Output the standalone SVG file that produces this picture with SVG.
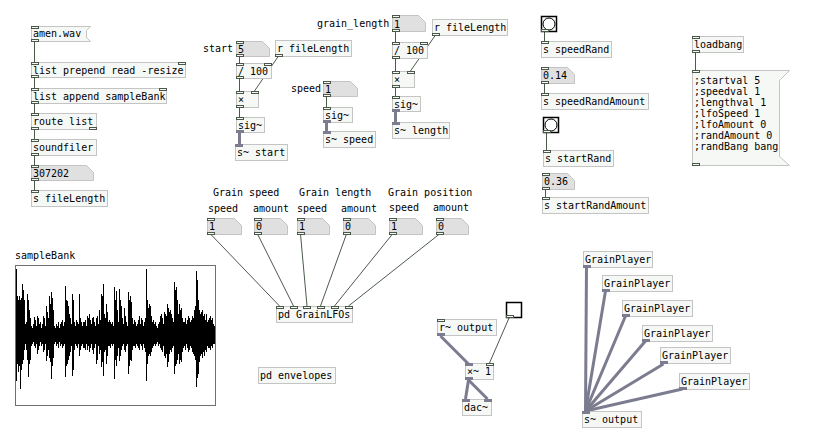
<svg xmlns="http://www.w3.org/2000/svg" width="840" height="439" viewBox="0 0 840 439">
<style>
text{font-family:"DejaVu Sans Mono",monospace;font-size:10px;fill:#000}
.b{fill:#f6f8f6;stroke:#c4c4c4;stroke-width:1}
.n{fill:#e0e0e0;stroke:#c4c4c4;stroke-width:1}
.io{fill:#f6f8f6;stroke:#4a584a;stroke-width:1}
.sio{fill:#7c7c90;stroke:#7c7c90;stroke-width:1}
.c{stroke:#4c5a4c;stroke-width:1;fill:none}
.s{stroke:#7c7c90;stroke-width:3;fill:none}
.bng{fill:#fff;stroke:#000;stroke-width:1.5}
</style>
<rect width="840" height="439" fill="#fff"/>

<g id="connectors">
<line class="c" x1="34.5" y1="41" x2="34.5" y2="62"/>
<line class="c" x1="34.5" y1="77" x2="34.5" y2="88"/>
<line class="c" x1="34.5" y1="103" x2="34.5" y2="113"/>
<line class="c" x1="34.5" y1="129" x2="34.5" y2="139"/>
<line class="c" x1="34.5" y1="155" x2="34.5" y2="165"/>
<line class="c" x1="34.5" y1="180" x2="34.5" y2="190"/>
<line class="c" x1="239.5" y1="56" x2="239.5" y2="63"/>
<line class="c" x1="239.5" y1="78" x2="239.5" y2="91"/>
<line class="c" x1="278.5" y1="56" x2="254.5" y2="91"/>
<line class="c" x1="239.5" y1="107" x2="239.5" y2="117"/>
<line class="s" x1="239.5" y1="132" x2="239.5" y2="144"/>
<line class="c" x1="326.5" y1="96" x2="326.5" y2="107"/>
<line class="s" x1="326.5" y1="122" x2="326.5" y2="131"/>
<line class="c" x1="395.5" y1="31" x2="395.5" y2="42"/>
<line class="c" x1="395.5" y1="58" x2="395.5" y2="71"/>
<line class="c" x1="435.5" y1="35" x2="410.5" y2="71"/>
<line class="c" x1="395.5" y1="87" x2="395.5" y2="96"/>
<line class="s" x1="395.5" y1="111" x2="395.5" y2="122"/>
<line class="c" x1="544.5" y1="31" x2="544.5" y2="41"/>
<line class="c" x1="544.5" y1="83" x2="544.5" y2="93"/>
<line class="c" x1="546.5" y1="133" x2="546.5" y2="150"/>
<line class="c" x1="545.5" y1="189" x2="545.5" y2="197"/>
<line class="c" x1="695.5" y1="53" x2="695.5" y2="70"/>
<line class="c" x1="210.5" y1="234" x2="279.5" y2="306"/>
<line class="c" x1="257.5" y1="234" x2="293.5" y2="306"/>
<line class="c" x1="300.5" y1="234" x2="307" y2="306"/>
<line class="c" x1="346.5" y1="234" x2="320.5" y2="306"/>
<line class="c" x1="392.5" y1="234" x2="334.5" y2="306"/>
<line class="c" x1="439.5" y1="234" x2="348.5" y2="306"/>
<line class="s" x1="440.5" y1="336" x2="468.5" y2="364"/>
<line class="s" x1="468.5" y1="380" x2="465.5" y2="399"/>
<line class="s" x1="468.5" y1="380" x2="487.5" y2="399"/>
<line class="c" x1="509" y1="318" x2="489.5" y2="363"/>
<line class="s" x1="586.5" y1="267" x2="585.5" y2="411"/>
<line class="s" x1="605.5" y1="291" x2="585.5" y2="411"/>
<line class="s" x1="625.5" y1="316" x2="585.5" y2="411"/>
<line class="s" x1="645.5" y1="341" x2="585.5" y2="411"/>
<line class="s" x1="663.5" y1="364" x2="585.5" y2="411"/>
<line class="s" x1="682.5" y1="389" x2="585.5" y2="411"/>
</g>

<!-- left column -->
<g id="msg-amen">
<path class="b" d="M31.5 26.5H90.5L86.5 30.5V37.5L90.5 41.5H31.5Z"/>
<rect class="io" x="31.5" y="26.5" width="7" height="2"/>
<rect class="io" x="31.5" y="39.5" width="7" height="2"/>
<text x="33" y="37">amen.wav</text>
</g>
<g id="obj-listprepend">
<rect class="b" x="31.5" y="62.5" width="154" height="15"/>
<rect class="io" x="31.5" y="62.5" width="7" height="2"/>
<rect class="io" x="178.5" y="62.5" width="7" height="2"/>
<rect class="io" x="31.5" y="75.5" width="7" height="2"/>
<text x="33" y="74">list prepend read -resize</text>
</g>
<g id="obj-listappend">
<rect class="b" x="31.5" y="88.5" width="135" height="15"/>
<rect class="io" x="31.5" y="88.5" width="7" height="2"/>
<rect class="io" x="159.5" y="88.5" width="7" height="2"/>
<rect class="io" x="31.5" y="101.5" width="7" height="2"/>
<text x="33" y="100">list append sampleBank</text>
</g>
<g id="obj-route">
<rect class="b" x="31.5" y="113.5" width="65" height="16"/>
<rect class="io" x="31.5" y="113.5" width="7" height="2"/>
<rect class="io" x="31.5" y="127.5" width="7" height="2"/>
<rect class="io" x="89.5" y="127.5" width="7" height="2"/>
<text x="33" y="125">route list</text>
</g>
<g id="obj-soundfiler">
<rect class="b" x="31.5" y="139.5" width="65" height="16"/>
<rect class="io" x="31.5" y="139.5" width="7" height="2"/>
<rect class="io" x="31.5" y="153.5" width="7" height="2"/>
<text x="33" y="151">soundfiler</text>
</g>
<g id="num-307202">
<path class="n" d="M31.5 165.5H86.5L93.5 172.5V180.5H31.5Z"/>
<rect class="io" x="31.5" y="165.5" width="7" height="2"/>
<rect class="io" x="31.5" y="178.5" width="7" height="2"/>
<text x="33" y="177">307202</text>
</g>
<g id="obj-sfilelength">
<rect class="b" x="31.5" y="190.5" width="76" height="16"/>
<rect class="io" x="31.5" y="190.5" width="7" height="2"/>
<text x="33" y="202">s fileLength</text>
</g>

<!-- start chain -->
<g id="lbl-start"><text x="203" y="52">start</text></g>
<g id="num-start">
<path class="n" d="M236.5 41.5H262.5L269.5 48.5V56.5H236.5Z"/>
<rect class="io" x="236.5" y="41.5" width="7" height="2"/>
<rect class="io" x="236.5" y="54.5" width="7" height="2"/>
<text x="238" y="53">5</text>
</g>
<g id="obj-rfl1">
<rect class="b" x="275.5" y="40.5" width="76" height="16"/>
<rect class="io" x="275.5" y="54.5" width="7" height="2"/>
<text x="277" y="52">r fileLength</text>
</g>
<g id="obj-div1">
<rect class="b" x="236.5" y="63.5" width="35" height="15"/>
<rect class="io" x="236.5" y="63.5" width="7" height="2"/>
<rect class="io" x="264.5" y="63.5" width="7" height="2"/>
<rect class="io" x="236.5" y="76.5" width="7" height="2"/>
<text x="238" y="75">/ 100</text>
</g>
<g id="obj-mul1">
<rect class="b" x="236.5" y="91.5" width="22" height="16"/>
<rect class="io" x="236.5" y="91.5" width="7" height="2"/>
<rect class="io" x="251.5" y="91.5" width="7" height="2"/>
<rect class="io" x="236.5" y="105.5" width="7" height="2"/>
<text x="238" y="103">×</text>
</g>
<g id="obj-sig1">
<rect class="b" x="236.5" y="117.5" width="28" height="15"/>
<rect class="io" x="236.5" y="117.5" width="7" height="2"/>
<rect class="sio" x="236.5" y="130.5" width="7" height="2"/>
<text x="238" y="129">sig~</text>
</g>
<g id="obj-sstart">
<rect class="b" x="235.5" y="144.5" width="52" height="16"/>
<rect class="sio" x="235.5" y="144.5" width="7" height="2"/>
<text x="237" y="156">s~ start</text>
</g>

<!-- speed chain -->
<g id="lbl-speed"><text x="291" y="92">speed</text></g>
<g id="num-speed">
<path class="n" d="M323.5 81.5H350.5L357.5 88.5V96.5H323.5Z"/>
<rect class="io" x="323.5" y="81.5" width="7" height="2"/>
<rect class="io" x="323.5" y="94.5" width="7" height="2"/>
<text x="325" y="93">1</text>
</g>
<g id="obj-sig2">
<rect class="b" x="323.5" y="107.5" width="29" height="15"/>
<rect class="io" x="323.5" y="107.5" width="7" height="2"/>
<rect class="sio" x="323.5" y="120.5" width="7" height="2"/>
<text x="325" y="119">sig~</text>
</g>
<g id="obj-sspeed">
<rect class="b" x="323.5" y="131.5" width="52" height="16"/>
<rect class="sio" x="323.5" y="131.5" width="7" height="2"/>
<text x="325" y="143">s~ speed</text>
</g>

<!-- grain length chain -->
<g id="lbl-grainlength"><text x="317" y="27">grain_length</text></g>
<g id="num-length">
<path class="n" d="M392.5 15.5H418.5L425.5 22.5V31.5H392.5Z"/>
<rect class="io" x="392.5" y="15.5" width="7" height="2"/>
<rect class="io" x="392.5" y="29.5" width="7" height="2"/>
<text x="394" y="28">1</text>
</g>
<g id="obj-rfl2">
<rect class="b" x="432.5" y="19.5" width="75" height="16"/>
<rect class="io" x="432.5" y="33.5" width="7" height="2"/>
<text x="434" y="31">r fileLength</text>
</g>
<g id="obj-div2">
<rect class="b" x="392.5" y="42.5" width="35" height="16"/>
<rect class="io" x="392.5" y="42.5" width="7" height="2"/>
<rect class="io" x="420.5" y="42.5" width="7" height="2"/>
<rect class="io" x="392.5" y="56.5" width="7" height="2"/>
<text x="394" y="54">/ 100</text>
</g>
<g id="obj-mul2">
<rect class="b" x="392.5" y="71.5" width="22" height="16"/>
<rect class="io" x="392.5" y="71.5" width="7" height="2"/>
<rect class="io" x="407.5" y="71.5" width="7" height="2"/>
<rect class="io" x="392.5" y="85.5" width="7" height="2"/>
<text x="394" y="83">×</text>
</g>
<g id="obj-sig3">
<rect class="b" x="392.5" y="96.5" width="28" height="15"/>
<rect class="io" x="392.5" y="96.5" width="7" height="2"/>
<rect class="sio" x="392.5" y="109.5" width="7" height="2"/>
<text x="394" y="108">sig~</text>
</g>
<g id="obj-slength">
<rect class="b" x="392.5" y="122.5" width="57" height="16"/>
<rect class="sio" x="392.5" y="122.5" width="7" height="2"/>
<text x="394" y="134">s~ length</text>
</g>

<!-- right column -->
<g id="bng-speedrand">
<rect class="bng" x="541.5" y="16.5" width="15" height="15"/>
<circle cx="549" cy="24" r="6" fill="#fff" stroke="#000" stroke-width="1"/>
<rect class="io" x="541.5" y="29.5" width="7" height="2"/>
</g>
<g id="obj-sspeedrand">
<rect class="b" x="541.5" y="41.5" width="70" height="16"/>
<rect class="io" x="541.5" y="41.5" width="7" height="2"/>
<text x="543" y="53">s speedRand</text>
</g>
<g id="num-speedrandamount">
<path class="n" d="M541.5 67.5H567.5L574.5 74.5V83.5H541.5Z"/>
<rect class="io" x="541.5" y="67.5" width="7" height="2"/>
<rect class="io" x="541.5" y="81.5" width="7" height="2"/>
<text x="543" y="79">0.14</text>
</g>
<g id="obj-sspeedrandamount">
<rect class="b" x="541.5" y="93.5" width="107" height="16"/>
<rect class="io" x="541.5" y="93.5" width="7" height="2"/>
<text x="543" y="105">s speedRandAmount</text>
</g>
<g id="bng-startrand">
<rect class="bng" x="543.5" y="117.5" width="15" height="15"/>
<circle cx="551" cy="125" r="6" fill="#fff" stroke="#000" stroke-width="1"/>
<rect class="io" x="543.5" y="130.5" width="7" height="2"/>
</g>
<g id="obj-sstartrand">
<rect class="b" x="543.5" y="150.5" width="70" height="16"/>
<rect class="io" x="543.5" y="150.5" width="7" height="2"/>
<text x="545" y="162">s startRand</text>
</g>
<g id="num-startrandamount">
<path class="n" d="M542.5 173.5H567.5L574.5 180.5V189.5H542.5Z"/>
<rect class="io" x="542.5" y="173.5" width="7" height="2"/>
<rect class="io" x="542.5" y="187.5" width="7" height="2"/>
<text x="544" y="185">0.36</text>
</g>
<g id="obj-sstartrandamount">
<rect class="b" x="542.5" y="197.5" width="106" height="16"/>
<rect class="io" x="542.5" y="197.5" width="7" height="2"/>
<text x="544" y="209">s startRandAmount</text>
</g>

<!-- loadbang -->
<g id="obj-loadbang">
<rect class="b" x="692.5" y="36.5" width="51" height="16"/>
<rect class="io" x="692.5" y="36.5" width="7" height="2"/>
<rect class="io" x="692.5" y="50.5" width="7" height="2"/>
<text x="694" y="48">loadbang</text>
</g>
<g id="msg-init">
<path class="b" d="M692.5 70.5H789.5L779.5 80.5V156.5L789.5 165.5H692.5Z"/>
<rect class="io" x="692.5" y="70.5" width="7" height="2"/>
<rect class="io" x="692.5" y="163.5" width="7" height="2"/>
<text x="694" y="84">;startval 5</text>
<text x="694" y="95">;speedval 1</text>
<text x="694" y="106">;lengthval 1</text>
<text x="694" y="117">;lfoSpeed 1</text>
<text x="694" y="128">;lfoAmount 0</text>
<text x="694" y="139">;randAmount 0</text>
<text x="694" y="150">;randBang bang</text>
</g>

<!-- LFO controls -->
<g id="lbl-lfo">
<text x="213" y="196">Grain speed</text>
<text x="208" y="212">speed</text>
<text x="253" y="212">amount</text>
<text x="299" y="196">Grain length</text>
<text x="297" y="212">speed</text>
<text x="341" y="212">amount</text>
<text x="388" y="196">Grain position</text>
<text x="389" y="211">speed</text>
<text x="433" y="211">amount</text>
</g>
<g id="num-lfo1">
<path class="n" d="M207.5 218.5H234.5L241.5 225.5V234.5H207.5Z"/>
<rect class="io" x="207.5" y="218.5" width="7" height="2"/>
<rect class="io" x="207.5" y="232.5" width="7" height="2"/>
<text x="209" y="230">1</text>
</g>
<g id="num-lfo2">
<path class="n" d="M254.5 218.5H280.5L287.5 225.5V234.5H254.5Z"/>
<rect class="io" x="254.5" y="218.5" width="7" height="2"/>
<rect class="io" x="254.5" y="232.5" width="7" height="2"/>
<text x="256" y="230">0</text>
</g>
<g id="num-lfo3">
<path class="n" d="M297.5 218.5H322.5L329.5 225.5V234.5H297.5Z"/>
<rect class="io" x="297.5" y="218.5" width="7" height="2"/>
<rect class="io" x="297.5" y="232.5" width="7" height="2"/>
<text x="299" y="230">1</text>
</g>
<g id="num-lfo4">
<path class="n" d="M343.5 218.5H368.5L375.5 225.5V234.5H343.5Z"/>
<rect class="io" x="343.5" y="218.5" width="7" height="2"/>
<rect class="io" x="343.5" y="232.5" width="7" height="2"/>
<text x="345" y="230">0</text>
</g>
<g id="num-lfo5">
<path class="n" d="M389.5 218.5H415.5L422.5 225.5V234.5H389.5Z"/>
<rect class="io" x="389.5" y="218.5" width="7" height="2"/>
<rect class="io" x="389.5" y="232.5" width="7" height="2"/>
<text x="391" y="230">1</text>
</g>
<g id="num-lfo6">
<path class="n" d="M436.5 218.5H461.5L468.5 225.5V234.5H436.5Z"/>
<rect class="io" x="436.5" y="218.5" width="7" height="2"/>
<rect class="io" x="436.5" y="232.5" width="7" height="2"/>
<text x="438" y="230">0</text>
</g>
<g id="obj-grainlfos">
<rect class="b" x="276.5" y="306.5" width="76" height="16"/>
<rect class="io" x="276.5" y="306.5" width="7" height="2"/>
<rect class="io" x="290.5" y="306.5" width="7" height="2"/>
<rect class="io" x="303.5" y="306.5" width="7" height="2"/>
<rect class="io" x="317.5" y="306.5" width="7" height="2"/>
<rect class="io" x="331.5" y="306.5" width="7" height="2"/>
<rect class="io" x="345.5" y="306.5" width="7" height="2"/>
<text x="278" y="318">pd GrainLFOs</text>
</g>
<g id="obj-envelopes">
<rect class="b" x="258.5" y="367.5" width="77" height="16"/>
<text x="260" y="379">pd envelopes</text>
</g>

<!-- sampleBank graph -->
<g id="graph-samplebank">
<text x="15" y="259">sampleBank</text>
<rect x="15.5" y="265.5" width="200" height="140" fill="#fff" stroke="#707070" stroke-width="1"/>
<rect x="16" y="328" width="199" height="14" fill="#000" shape-rendering="crispEdges"/>
<path stroke="#000" stroke-width="1" fill="none" shape-rendering="crispEdges" d="M16.5 269V381M17.5 296V364M18.5 300V372M19.5 296V366M20.5 300V389M21.5 298V370M22.5 284V364M23.5 290V360M24.5 300V350M25.5 324V344M26.5 322V350M27.5 294V360M28.5 300V377M29.5 310V364M30.5 318V360M31.5 326V346M32.5 328V344M33.5 324V342M34.5 317V346M35.5 320V348M36.5 326V344M37.5 316V354M38.5 318V350M39.5 324V346M40.5 322V342M41.5 328V346M42.5 324V344M43.5 316V352M44.5 318V350M45.5 326V344M46.5 306V361M47.5 312V356M48.5 318V350M49.5 296V358M50.5 304V362M51.5 292V379M52.5 298V366M53.5 310V358M54.5 326V344M55.5 328V342M56.5 324V346M57.5 326V344M58.5 322V348M59.5 328V342M60.5 324V346M61.5 322V344M62.5 320V348M63.5 326V346M64.5 322V344M65.5 286V377M66.5 300V366M67.5 301V364M68.5 306V360M69.5 314V356M70.5 318V352M71.5 324V346M72.5 294V376M73.5 300V370M74.5 322V350M75.5 326V344M76.5 320V346M77.5 322V348M78.5 324V344M79.5 294V356M80.5 318V350M81.5 322V346M82.5 326V344M83.5 322V348M84.5 322V348M85.5 320V350M86.5 326V344M87.5 316V350M88.5 318V346M89.5 314V352M90.5 320V348M91.5 324V344M92.5 318V350M93.5 317V354M94.5 322V348M95.5 326V344M96.5 318V364M97.5 316V360M98.5 324V346M99.5 310V354M100.5 320V350M101.5 294V367M102.5 296V362M103.5 284V376M104.5 314V352M105.5 318V350M106.5 304V364M107.5 312V356M108.5 322V346M109.5 320V346M110.5 322V348M111.5 324V344M112.5 322V346M113.5 326V344M114.5 287V379M115.5 300V360M116.5 291V366M117.5 310V356M118.5 322V348M119.5 289V361M120.5 300V356M121.5 306V350M122.5 318V346M123.5 324V344M124.5 308V350M125.5 316V352M126.5 322V346M127.5 326V344M128.5 292V374M129.5 300V366M130.5 296V360M131.5 302V361M132.5 318V350M133.5 324V346M134.5 320V346M135.5 322V348M136.5 326V344M137.5 324V346M138.5 320V348M139.5 316V350M140.5 324V344M141.5 318V346M142.5 320V350M143.5 326V344M144.5 322V348M145.5 318V352M146.5 269V381M147.5 300V364M148.5 308V356M149.5 304V354M150.5 306V356M151.5 316V352M152.5 322V348M153.5 320V346M154.5 324V344M155.5 322V346M156.5 326V344M157.5 328V342M158.5 324V346M159.5 322V344M160.5 316V348M161.5 314V350M162.5 318V352M163.5 324V346M164.5 312V356M165.5 314V358M166.5 316V354M167.5 304V367M168.5 308V362M169.5 312V354M170.5 310V350M171.5 314V352M172.5 318V348M173.5 322V346M174.5 282V374M175.5 290V366M176.5 287V364M177.5 300V360M178.5 314V354M179.5 304V364M180.5 310V360M181.5 308V362M182.5 318V352M183.5 322V348M184.5 322V346M185.5 318V350M186.5 324V344M187.5 320V348M188.5 316V352M189.5 318V350M190.5 322V346M191.5 320V348M192.5 316V352M193.5 318V354M194.5 310V356M195.5 306V360M196.5 271V387M197.5 280V378M198.5 300V374M199.5 310V362M200.5 314V356M201.5 312V354M202.5 310V358M203.5 316V352M204.5 314V356M205.5 320V350M206.5 314V352M207.5 322V346M208.5 320V348M209.5 318V348M210.5 316V350M211.5 320V346M212.5 318V348M213.5 324V344M214.5 326V344"/>
</g>

<!-- output -->
<g id="tgl-output">
<rect x="506.5" y="302.5" width="15" height="15" fill="#fff" stroke="#000" stroke-width="1.5"/>
<rect class="io" x="506.5" y="315.5" width="7" height="2"/>
</g>
<g id="obj-routput">
<rect class="b" x="437.5" y="319.5" width="59" height="16"/>
<rect class="io" x="437.5" y="319.5" width="7" height="2"/>
<rect class="sio" x="437.5" y="333.5" width="7" height="2"/>
<text x="439" y="331">r~ output</text>
</g>
<g id="obj-mulout">
<rect class="b" x="465.5" y="363.5" width="28" height="16"/>
<rect class="sio" x="465.5" y="363.5" width="7" height="2"/>
<rect class="io" x="486.5" y="363.5" width="7" height="2"/>
<rect class="sio" x="465.5" y="377.5" width="7" height="2"/>
<text x="467" y="375">×~ 1</text>
</g>
<g id="obj-dac">
<rect class="b" x="462.5" y="399.5" width="29" height="16"/>
<rect class="sio" x="462.5" y="399.5" width="7" height="2"/>
<rect class="sio" x="484.5" y="399.5" width="7" height="2"/>
<text x="464" y="411">dac~</text>
</g>

<!-- grain players -->
<g id="gp1">
<rect class="b" x="583.5" y="251.5" width="69" height="16"/>
<rect class="sio" x="583.5" y="265.5" width="7" height="2"/>
<text x="585" y="263">GrainPlayer</text>
</g>
<g id="gp2">
<rect class="b" x="602.5" y="275.5" width="70" height="16"/>
<rect class="sio" x="602.5" y="289.5" width="7" height="2"/>
<text x="604" y="287">GrainPlayer</text>
</g>
<g id="gp3">
<rect class="b" x="622.5" y="300.5" width="70" height="16"/>
<rect class="sio" x="622.5" y="314.5" width="7" height="2"/>
<text x="624" y="312">GrainPlayer</text>
</g>
<g id="gp4">
<rect class="b" x="642.5" y="325.5" width="70" height="16"/>
<rect class="sio" x="642.5" y="339.5" width="7" height="2"/>
<text x="644" y="337">GrainPlayer</text>
</g>
<g id="gp5">
<rect class="b" x="660.5" y="347.5" width="70" height="16"/>
<rect class="sio" x="660.5" y="361.5" width="7" height="2"/>
<text x="662" y="359">GrainPlayer</text>
</g>
<g id="gp6">
<rect class="b" x="679.5" y="373.5" width="70" height="16"/>
<rect class="sio" x="679.5" y="387.5" width="7" height="2"/>
<text x="681" y="385">GrainPlayer</text>
</g>
<g id="obj-soutput">
<rect class="b" x="582.5" y="411.5" width="59" height="16"/>
<rect class="sio" x="582.5" y="411.5" width="7" height="2"/>
<text x="584" y="423">s~ output</text>
</g>
</svg>
